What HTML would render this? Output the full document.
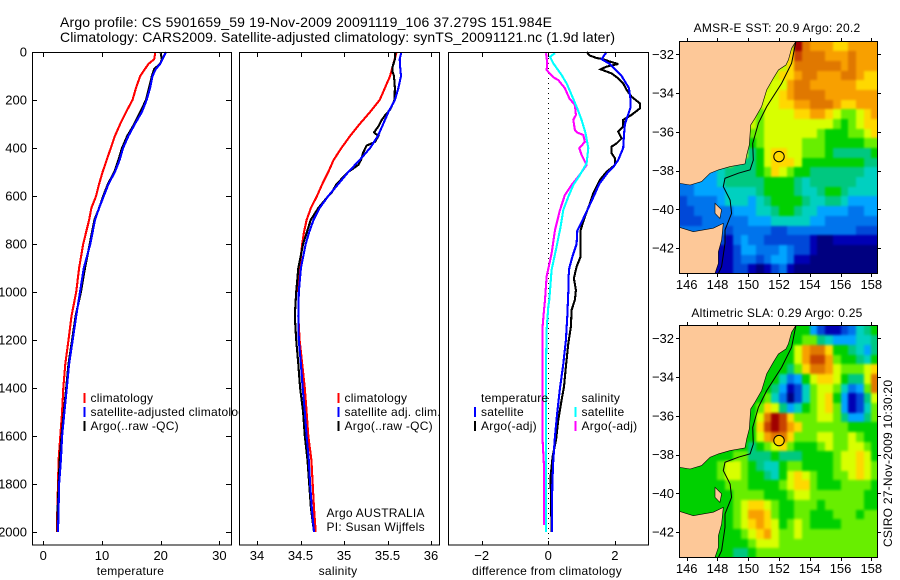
<!DOCTYPE html>
<html>
<head>
<meta charset="utf-8">
<title>Argo profile</title>
<style>
html,body{margin:0;padding:0;background:#fff;width:900px;height:580px;overflow:hidden}
svg{display:block}
text{font-family:"Liberation Sans",sans-serif;fill:#000;font-size:12px}
.ttl{font-size:14px}
.tk{font-size:13px}
.lg{font-size:12px;letter-spacing:.25px}
</style>
</head>
<body>
<svg id="fig" xmlns="http://www.w3.org/2000/svg" width="900" height="580" viewBox="0 0 900 580">
  <rect width="900" height="580" fill="#fff"/>
  <text class="ttl" x="60" y="27" textLength="492" lengthAdjust="spacing">Argo profile: CS 5901659_59 19-Nov-2009 20091119_106 37.279S 151.984E</text>
  <text class="ttl" x="60" y="42" textLength="555" lengthAdjust="spacing">Climatology: CARS2009. Satellite-adjusted climatology: synTS_20091121.nc (1.9d later)</text>
  <g id="layer"></g>
</svg>
<script>
// ---------- temperature panel data ----------
const tempClimDepth = [0,30,50,100,150,200,250,300,350,400,450,500,550,600,650,700,800,900,1000,1100,1200,1300,1400,1500,1600,1700,1800,1900,2000];
const tempClim = [19.1,18.9,17.9,16.5,15.8,15.2,14.1,13.1,12.2,11.5,10.8,10.1,9.5,9.0,8.2,7.8,6.8,6.1,5.6,4.8,4.3,3.75,3.4,3.2,2.9,2.6,2.5,2.4,2.3];
const tempSatDepth = [0,30,50,70,100,150,200,250,300,350,400,450,500,550,600,650,700,800,900,1000,1100,1200,1300,1400,1500,1600,1700,1800,1900,2000];
const tempSat = [20.9,20.3,19.9,19.2,18.6,18.2,17.6,16.8,15.6,14.5,13.6,13.0,12.2,11.1,10.3,9.5,8.8,8.0,6.9,6.25,5.6,5.0,4.4,4.0,3.6,3.2,3.0,2.7,2.6,2.5];
const tempArgoDepth = [5,30,50,70,100,150,200,250,300,350,400,450,500,550,600,650,700,800,900,1000,1100,1200,1300,1400,1500,1600,1700,1800,1900,2000];
const tempArgo = [20.0,20.2,19.9,18.9,18.5,18.0,17.5,16.5,15.5,14.3,13.4,12.8,12.1,11.0,10.2,9.5,8.7,7.9,7.1,6.4,5.5,4.9,4.3,3.9,3.5,3.1,2.8,2.6,2.45,2.4];
// ---------- salinity panel data ----------
const salClimDepth = [0,100,150,200,250,300,350,400,450,500,550,600,650,700,750,800,900,1000,1100,1200,1300,1400,1500,1600,1700,1800,1900,2000];
const salClim = [35.605,35.53,35.47,35.41,35.3,35.18,35.07,34.97,34.88,34.82,34.75,34.69,34.62,34.57,34.54,34.52,34.49,34.475,34.475,34.49,34.52,34.55,34.57,34.59,34.625,34.64,34.655,34.675];
const salSatDepth = [0,30,60,100,150,200,250,300,350,400,450,500,550,600,650,700,750,800,900,1000,1100,1200,1300,1400,1500,1600,1700,1800,1900,2000];
const salSat = [35.66,35.64,35.645,35.655,35.625,35.585,35.51,35.45,35.39,35.3,35.18,35.05,34.935,34.82,34.72,34.65,34.6,34.56,34.505,34.48,34.475,34.48,34.505,34.525,34.55,34.57,34.595,34.61,34.63,34.655];
const salArgoDepth = [5,30,60,80,100,150,200,240,265,285,310,335,350,375,390,420,450,470,500,550,585,600,650,700,800,900,1000,1100,1200,1300,1400,1500,1600,1700,1800,1900,2000];
const salArgo = [35.59,35.585,35.56,35.555,35.575,35.585,35.58,35.53,35.47,35.43,35.395,35.345,35.395,35.355,35.26,35.22,35.195,35.165,35.05,34.915,34.86,34.82,34.705,34.617,34.53,34.475,34.45,34.435,34.45,34.475,34.495,34.53,34.55,34.58,34.6,34.62,34.655];
// ---------- difference panel data ----------
const diffTSatDepth = [0,20,30,50,100,150,200,230,300,350,400,450,480,500,550,600,650,700,745,800,850,900,950,1000,1100,1200,1300,1400,1500,1600,1700,1800,1900,2000];
const diffTSat = [1.75,1.65,1.6,1.85,2.2,2.42,2.47,2.47,2.3,2.27,2.25,2.1,1.95,1.8,1.53,1.37,1.2,1.03,0.87,0.85,0.73,0.63,0.6,0.6,0.57,0.53,0.45,0.35,0.27,0.2,0.15,0.12,0.11,0.11];
const diffTArgoDepth = [0,15,25,30,40,50,61,72,89,110,131,158,186,214,235,262,283,311,332,360,381,394,422,443,471,499,533,589,631,686,742,853,894,943,992,1033,1075,1144,1214,1311,1394,1450,1533,1617,1686,1769,1867,2000];
const diffTArgo = [1.15,1.25,1.45,1.65,1.85,2.1,1.75,1.57,1.9,2.1,2.25,2.35,2.5,2.75,2.75,2.5,2.25,2.25,2.1,2.2,2.05,1.9,1.9,2.0,2.0,1.75,1.55,1.35,1.25,1.1,0.97,0.97,0.85,0.77,0.83,0.8,0.7,0.68,0.6,0.53,0.47,0.4,0.3,0.23,0.13,0.07,0.08,0.1];
const diffSSatDepth = [5,20,47,96,131,179,235,283,339,401,464,512,554,603,658,728,811,908,1033,1061,1158,1311,1589,2000];
const diffSSat = [0.2,0.05,0.15,0.4,0.55,0.7,0.87,1.0,1.12,1.2,1.15,0.95,0.75,0.6,0.45,0.37,0.25,0.1,0.03,0,-0.05,-0.07,-0.07,-0.07];
const diffSArgoDepth = [5,47,75,105,117,151,193,221,262,283,325,336,346,374,401,429,471,519,554,596,658,742,839,936,1033,1075,1144,1617,1728,1971];
const diffSArgo = [-0.07,-0.03,-0.05,0.15,0.3,0.5,0.63,0.8,0.83,0.75,0.8,0.87,1.05,1.1,0.93,1.0,1.15,0.9,0.7,0.5,0.35,0.2,0.1,-0.05,-0.1,-0.13,-0.17,-0.17,-0.13,-0.12];
// ---------- tick labels ----------
const depthTicks = [0,200,400,600,800,1000,1200,1400,1600,1800,2000];
const tempTicks = [0,10,20,30];
const salTicks = [34,34.5,35,35.5,36];
const diffTicks = [-2,0,2];
const lonTicks = [146,148,150,152,154,156,158];
const latTicks = [-32,-34,-36,-38,-40,-42];
// ---------- map data: colour-class per half-degree cell, -1 = land ----------
const sstRows = [
[-1,-1,-1,-1,-1,-1,-1,-1,-1,-1,-1,-1,-1,-1,-1,14,12,11,11,11,10,10,11,11,11,11],
[-1,-1,-1,-1,-1,-1,-1,-1,-1,-1,-1,-1,-1,-1,10,13,12,12,12,11,11,11,12,11,11,11],
[-1,-1,-1,-1,-1,-1,-1,-1,-1,-1,-1,-1,-1,-1,10,12,12,12,12,12,12,11,12,11,11,11],
[-1,-1,-1,-1,-1,-1,-1,-1,-1,-1,-1,-1,-1,10,10,11,12,12,11,11,11,12,12,11,10,10],
[-1,-1,-1,-1,-1,-1,-1,-1,-1,-1,-1,-1,9,9,11,12,12,11,11,11,11,11,11,10,10,10],
[-1,-1,-1,-1,-1,-1,-1,-1,-1,-1,-1,9,9,10,11,12,12,12,12,11,11,11,11,11,11,11],
[-1,-1,-1,-1,-1,-1,-1,-1,-1,-1,-1,9,9,10,10,11,11,12,12,12,11,10,10,11,11,11],
[-1,-1,-1,-1,-1,-1,-1,-1,-1,-1,8,9,9,9,9,10,10,11,11,10,9,8,8,9,10,11],
[-1,-1,-1,-1,-1,-1,-1,-1,-1,-1,8,9,9,9,9,9,9,9,9,9,8,7,8,9,10,10],
[-1,-1,-1,-1,-1,-1,-1,-1,-1,8,8,9,9,9,9,9,9,9,8,7,7,7,8,8,9,10],
[-1,-1,-1,-1,-1,-1,-1,-1,-1,7,8,9,9,9,9,9,8,8,8,7,7,7,7,7,8,8],
[-1,-1,-1,-1,-1,-1,-1,-1,-1,6,7,9,10,10,9,9,8,8,8,7,6,6,6,6,6,7],
[-1,-1,-1,-1,-1,-1,-1,6,6,6,7,9,10,10,10,9,7,7,7,7,7,7,7,7,6,6],
[4,4,4,4,4,5,6,6,6,6,7,8,10,9,8,7,7,6,6,6,6,6,6,6,5,5],
[3,3,4,4,4,5,6,6,6,6,6,7,7,7,7,6,5,6,6,6,6,6,6,5,5,5],
[3,3,4,4,4,4,5,5,5,5,6,7,7,7,7,6,5,5,6,7,7,6,5,5,5,5],
[2,3,3,3,3,4,5,5,5,4,5,6,7,7,7,7,6,5,5,6,6,5,4,4,4,4],
[2,2,3,3,3,3,3,4,4,4,5,5,6,7,7,6,5,5,4,4,4,4,3,3,4,4],
[2,2,2,3,3,3,3,3,3,4,4,4,5,5,5,5,5,4,4,3,3,3,3,3,3,3],
[3,3,3,3,3,3,2,3,3,3,3,3,2,2,3,3,3,3,3,3,3,3,3,2,2,2],
[-1,-1,-1,-1,2,2,1,3,4,3,3,2,2,2,2,2,2,1,0,0,1,1,1,1,1,1],
[-1,-1,-1,-1,1,1,1,2,4,4,3,3,3,4,3,2,2,1,0,0,0,0,0,0,0,0],
[-1,-1,-1,-1,1,1,1,2,3,3,2,3,4,4,3,1,1,0,0,0,0,0,0,0,0,0],
[-1,-1,-1,-1,1,1,1,2,2,1,0,1,2,3,1,0,0,0,0,0,0,0,0,0,0,0]
];
const slaRows = [
[-1,-1,-1,-1,-1,-1,-1,-1,-1,-1,-1,-1,-1,-1,-1,7,7,4,2,1,1,2,3,5,6,7],
[-1,-1,-1,-1,-1,-1,-1,-1,-1,-1,-1,-1,-1,-1,7,7,8,8,6,5,4,4,4,5,5,6],
[-1,-1,-1,-1,-1,-1,-1,-1,-1,-1,-1,-1,-1,-1,7,9,11,12,12,10,7,7,6,5,4,6],
[-1,-1,-1,-1,-1,-1,-1,-1,-1,-1,-1,-1,-1,7,7,9,11,13,13,11,8,7,7,6,5,7],
[-1,-1,-1,-1,-1,-1,-1,-1,-1,-1,-1,-1,7,7,6,8,10,12,12,11,9,8,8,8,9,10],
[-1,-1,-1,-1,-1,-1,-1,-1,-1,-1,-1,7,7,5,3,4,7,9,10,10,9,7,6,6,9,12],
[-1,-1,-1,-1,-1,-1,-1,-1,-1,-1,-1,7,6,4,1,2,5,8,9,9,8,5,3,4,8,12],
[-1,-1,-1,-1,-1,-1,-1,-1,-1,-1,7,8,5,3,0,2,5,8,9,10,7,4,1,2,6,9],
[-1,-1,-1,-1,-1,-1,-1,-1,-1,-1,8,10,9,6,4,5,7,8,9,10,8,4,1,2,5,8],
[-1,-1,-1,-1,-1,-1,-1,-1,-1,7,9,12,14,13,10,8,8,8,9,9,8,6,4,4,6,8],
[-1,-1,-1,-1,-1,-1,-1,-1,-1,7,10,13,14,13,11,10,8,8,8,8,8,8,7,7,7,7],
[-1,-1,-1,-1,-1,-1,-1,-1,-1,7,9,11,12,12,10,8,8,8,9,9,8,8,9,8,7,7],
[-1,-1,-1,-1,-1,-1,-1,-1,7,6,7,8,9,10,8,7,7,7,8,9,8,8,9,9,8,7],
[-1,-1,-1,-1,-1,7,7,8,8,6,6,6,7,6,6,6,7,7,7,7,8,9,9,10,9,7],
[-1,-1,7,7,7,8,9,9,8,7,6,5,5,7,8,8,7,7,7,7,8,9,9,10,9,8],
[7,7,7,7,7,8,9,9,8,7,7,6,5,7,9,10,9,8,7,7,8,8,9,10,9,8],
[7,7,7,7,7,7,8,8,8,7,7,7,7,8,9,10,10,8,7,7,7,8,8,8,8,7],
[7,7,7,7,7,7,7,8,8,8,8,7,7,7,8,9,9,8,8,8,8,8,8,8,7,7],
[7,7,7,7,7,7,7,8,9,10,10,9,8,7,7,8,8,8,7,8,8,8,8,8,7,7],
[7,7,7,7,7,7,7,8,9,11,11,10,8,7,7,8,8,7,7,7,8,8,8,7,8,8],
[-1,-1,-1,-1,-1,-1,7,8,9,10,11,10,9,7,8,9,8,7,7,7,7,8,8,8,8,8],
[-1,-1,-1,-1,-1,-1,7,7,8,9,10,11,9,8,8,9,8,8,8,8,8,8,8,8,8,8],
[-1,-1,-1,-1,-1,-1,7,7,7,8,9,9,9,8,8,8,8,8,8,8,8,8,8,8,8,8],
[-1,-1,-1,-1,-1,-1,7,6,6,7,8,8,8,8,8,8,8,8,8,8,8,8,8,8,8,8]
];
// ---------- geography (lon / lat) ----------
const mainlandLon = [145.52,153.10,152.82,152.61,152.45,151.96,151.63,151.20,150.87,150.44,150.16,150.07,149.90,149.79,148.82,148.06,147.52,146.97,146.22,145.52];
const mainlandLat = [-31.33,-31.33,-31.69,-32.29,-32.55,-32.81,-33.24,-33.84,-34.70,-35.30,-35.65,-36.68,-37.20,-37.66,-37.80,-37.97,-38.14,-38.57,-38.75,-38.66];
const tasmaniaLon = [145.52,146.43,147.73,148.38,148.27,148.06,148.06,147.84,145.52];
const tasmaniaLat = [-40.93,-41.16,-40.98,-40.73,-41.59,-42.19,-42.79,-43.31,-43.31];
const flindersLon = [147.84,148.27,148.16,147.84];
const flindersLat = [-39.69,-40.03,-40.47,-40.21];
const contourLon = [153.10,152.82,152.17,151.20,150.66,150.29,150.33,150.12,149.36,148.49,148.38,148.82,148.92,148.49,148.49,148.27,148.06];
const contourLat = [-31.33,-32.46,-33.50,-34.70,-35.56,-36.60,-37.46,-37.97,-38.14,-38.40,-38.83,-39.52,-40.21,-41.07,-41.76,-42.96,-43.31];
const argoLon = 152;
const argoLat = -37.28;

const palette = ['#000080','#0000b4','#0048d8','#0074ec','#00a4ff','#00d0c0','#00c880','#00d000','#68ee00','#d8ff00','#ffd800','#f8a000','#e07800','#c84400','#a00000'];
const NS = 'http://www.w3.org/2000/svg';
const layer = document.getElementById('layer');

function mk(tag, attrs, parent, txt){
  const e = document.createElementNS(NS, tag);
  for (const k in attrs) e.setAttribute(k, attrs[k]);
  if (txt !== undefined) e.textContent = txt;
  (parent || layer).appendChild(e);
  return e;
}
function depthY(d){ return 52 + 0.24 * d; }
function tempX(v){ return 43.3 + 5.87 * v; }
function salX(v){ return 257 + 87 * (v - 34); }
function diffX(v){ return 548.3 + 33.3 * v; }

function drawPanel(name, left, right){
  const g = mk('g', {}, layer);
  
  
  const bg = mk('rect', {x:left, y:52, width:right-left, height:493, fill:'#fff'}, g);
  
  
  return g;
}
function drawFrame(g, name, left, right, xFn, xTicks, xLabel, withDepth){
  const fr = mk('rect', {x:left+.5, y:52.5, width:right-left, height:492.5, fill:'none', stroke:'#000', 'stroke-width':1, 'shape-rendering':'crispEdges'}, g);
  
  
  xTicks.forEach(function(t){
    const x = Math.round(xFn(t)) + .5;
    const tk = mk('path', {d:'M'+x+' 53V57M'+x+' 545V541', stroke:'#000', fill:'none', 'shape-rendering':'crispEdges'}, g);
    
    
    const lb = mk('text', {x:xFn(t), y:560, 'text-anchor':'middle', class:'tk'}, g, String(t).replace('-', '\u2212'));
    
    
  });
  const xt = mk('text', {x:(left+right)/2-1, y:575, 'text-anchor':'middle', class:'lg'}, g, xLabel);
  
  
  if (withDepth){
    depthTicks.forEach(function(d){
      const y = Math.round(depthY(d)) + .5;
      const tk = mk('path', {d:'M33 '+y+'H37M'+right+' '+y+'H'+(right-5), stroke:'#000', fill:'none', 'shape-rendering':'crispEdges'}, g);
      
      
      const lb = mk('text', {x:27, y:depthY(d)+4.5, 'text-anchor':'end', class:'tk'}, g, String(d));
      
      
    });
  }
}
function drawLine(g, name, depths, vals, xFn, color){
  const pts = depths.map(function(d, i){ return xFn(vals[i]).toFixed(1) + ',' + depthY(d).toFixed(1); }).join(' ');
  const pl = mk('polyline', {points:pts, fill:'none', stroke:color, 'stroke-width':2.1, 'shape-rendering':'crispEdges'}, g);
  
  
}
function drawLegend(g, name, x, rows){
  rows.forEach(function(r){
    if (r.color){
      const m = mk('rect', {x:x-7, y:r.y-9, width:2, height:10, fill:r.color, 'shape-rendering':'crispEdges'}, g);
      
      
    }
    const t = mk('text', {x:x, y:r.y, class:'lg'}, g, r.label);
    
    
  });
}

// Temperature
const p1 = drawPanel('temperature', 32, 231);
drawLine(p1, 'temperature-climatology-line', tempClimDepth, tempClim, tempX, '#ff0000');
drawLine(p1, 'temperature-argo-line', tempArgoDepth, tempArgo, tempX, '#000000');
drawLine(p1, 'temperature-satellite-line', tempSatDepth, tempSat, tempX, '#0000ff');
drawLegend(p1, 'temperature-legend', 90.5, [
  {y:402, label:'climatology', color:'#ff0000'},
  {y:416, label:'satellite-adjusted climatology', color:'#0000ff'},
  {y:430, label:'Argo(..raw -QC)', color:'#000000'}
]);
drawFrame(p1, 'temperature', 32, 231, tempX, tempTicks, 'temperature', true);

// Salinity
const p2 = drawPanel('salinity', 239, 439);
drawLine(p2, 'salinity-climatology-line', salClimDepth, salClim, salX, '#ff0000');
drawLine(p2, 'salinity-argo-line', salArgoDepth, salArgo, salX, '#000000');
drawLine(p2, 'salinity-satellite-line', salSatDepth, salSat, salX, '#0000ff');
drawLegend(p2, 'salinity-legend', 344.5, [
  {y:402, label:'climatology', color:'#ff0000'},
  {y:416, label:'satellite adj. clim.', color:'#0000ff'},
  {y:430, label:'Argo(..raw -QC)', color:'#000000'}
]);
drawLegend(p2, 'float-owner-note', 326.5, [
  {y:517, label:'Argo AUSTRALIA'},
  {y:531, label:'PI: Susan Wijffels'}
]);
drawFrame(p2, 'salinity', 239, 439, salX, salTicks, 'salinity', false);

// Difference
const p3 = drawPanel('difference', 448, 648);
const zero = mk('line', {x1:diffX(0), x2:diffX(0), y1:53, y2:545, stroke:'#000', 'stroke-width':1, 'stroke-dasharray':'1 4', 'shape-rendering':'crispEdges'}, p3);


drawLine(p3, 'difference-temperature-argo-line', diffTArgoDepth, diffTArgo, diffX, '#000000');
drawLine(p3, 'difference-temperature-satellite-line', diffTSatDepth, diffTSat, diffX, '#0000ff');
drawLine(p3, 'difference-salinity-argo-line', diffSArgoDepth, diffSArgo, diffX, '#ff00ff');
drawLine(p3, 'difference-salinity-satellite-line', diffSSatDepth, diffSSat, diffX, '#00ffff');
drawLegend(p3, 'difference-temperature-legend', 481, [
  {y:402, label:'temperature'},
  {y:416, label:'satellite', color:'#0000ff'},
  {y:430, label:'Argo(-adj)', color:'#000000'}
]);
drawLegend(p3, 'difference-salinity-legend', 581.5, [
  {y:402, label:'salinity'},
  {y:416, label:'satellite', color:'#00ffff'},
  {y:430, label:'Argo(-adj)', color:'#ff00ff'}
]);
drawFrame(p3, 'difference', 448, 648, diffX, diffTicks, 'difference from climatology', false);

// Maps
function drawMap(name, rows, top, bottom, lat32Y, title, titleY, markerFill, blurAmount, underColor){
  const g = mk('g', {}, layer);
  
  
  const left = 679, right = 877;
  function lonX(l){ return 686.7 + (l - 146) * 15.385; }
  function latY(l){ return lat32Y + (-32 - l) * 19.37; }
  const cid = 'clip-' + name;
  const fid = 'blur-' + name;
  const defs = mk('defs', {}, g);
  const cp = mk('clipPath', {id:cid}, defs);
  mk('rect', {x:left, y:top, width:right-left, height:bottom-top}, cp);
  const flt = mk('filter', {id:fid, filterUnits:'userSpaceOnUse', x:left-30, y:top-30, width:right-left+60, height:bottom-top+60, 'color-interpolation-filters':'sRGB'}, defs);
  mk('feGaussianBlur', {stdDeviation:blurAmount}, flt);
  const body = mk('g', {'clip-path':'url(#' + cid + ')'}, g);
  const cells = mk('g', {filter:'url(#' + fid + ')'}, body);
  
  
  const under = mk('rect', {x:left-25, y:top-25, width:right-left+50, height:bottom-top+50, fill:underColor}, cells);
  
  
  rows.forEach(function(row, r){
    row.forEach(function(v, c){
      if (v < 0) return;
      let x0 = Math.round(lonX(145.5 + c * 0.5));
      let x1 = Math.round(lonX(146 + c * 0.5));
      let y0 = Math.round(latY(-31.34 - r * 0.5));
      let y1 = Math.round(latY(-31.84 - r * 0.5));
      if (c === 0) x0 -= 20;
      if (c === row.length - 1) x1 += 20;
      if (r === 0) y0 -= 20;
      if (r === rows.length - 1) y1 += 20;
      const cell = mk('rect', {x:x0, y:y0, width:x1-x0, height:y1-y0, fill:palette[v], 'shape-rendering':'crispEdges'}, cells);
      
      
    });
  });
  function land(label, lons, lats){
    const pts = lons.map(function(l, i){ return lonX(l).toFixed(1) + ',' + latY(lats[i]).toFixed(1); }).join(' ');
    const pg = mk('polygon', {points:pts, fill:'#fdc898', stroke:'#000', 'stroke-width':.6}, body);
    
    
  }
  land(name + '-mainland', mainlandLon, mainlandLat);
  land(name + '-tasmania', tasmaniaLon, tasmaniaLat);
  land(name + '-flinders-island', flindersLon, flindersLat);
  const ctr = mk('polyline', {points:contourLon.map(function(l, i){ return lonX(l).toFixed(1) + ',' + latY(contourLat[i]).toFixed(1); }).join(' '), fill:'none', stroke:'#000', 'stroke-width':1}, body);
  
  
  const mk1 = mk('circle', {cx:lonX(argoLon), cy:latY(argoLat), r:5.2, fill:markerFill, stroke:'#000', 'stroke-width':1}, body);
  
  
  const fr = mk('rect', {x:left+.5, y:top+.5, width:right-left, height:bottom-top, fill:'none', stroke:'#000', 'shape-rendering':'crispEdges'}, g);
  
  
  lonTicks.forEach(function(t){
    const x = Math.round(lonX(t)) + .5;
    const tk = mk('path', {d:'M'+x+' '+top+'V'+(top-3)+'M'+x+' '+(bottom+1)+'V'+(bottom+4), stroke:'#000', fill:'none', 'shape-rendering':'crispEdges'}, g);
    
    
    const lb = mk('text', {x:lonX(t), y:bottom+16, 'text-anchor':'middle', class:'tk'}, g, String(t));
    
    
  });
  latTicks.forEach(function(t){
    const y = Math.round(latY(t)) + .5;
    const tk = mk('path', {d:'M'+left+' '+y+'H'+(left-3)+'M'+(right+1)+' '+y+'H'+(right+4), stroke:'#000', fill:'none', 'shape-rendering':'crispEdges'}, g);
    
    
    const lb = mk('text', {x:left-5, y:latY(t)+4.5, 'text-anchor':'end', class:'tk'}, g, '\u2212' + Math.abs(t));
    
    
  });
  const tt = mk('text', {x:777, y:titleY, 'text-anchor':'middle', class:'lg'}, g, title);
  
  
}
drawMap('sst', sstRows, 41, 273, 54.3, 'AMSR-E SST: 20.9 Argo: 20.2', 32, 'none', 1, '#c8f800');
drawMap('sla', slaRows, 325, 557, 338.3, 'Altimetric SLA: 0.29 Argo: 0.25', 317, '#ffd000', 1.4, '#00d000');

const stamp = mk('text', {transform:'translate(892,547) rotate(-90)', class:'lg'}, layer, 'CSIRO 27-Nov-2009 10:30:20');


</script>
</body>
</html>
